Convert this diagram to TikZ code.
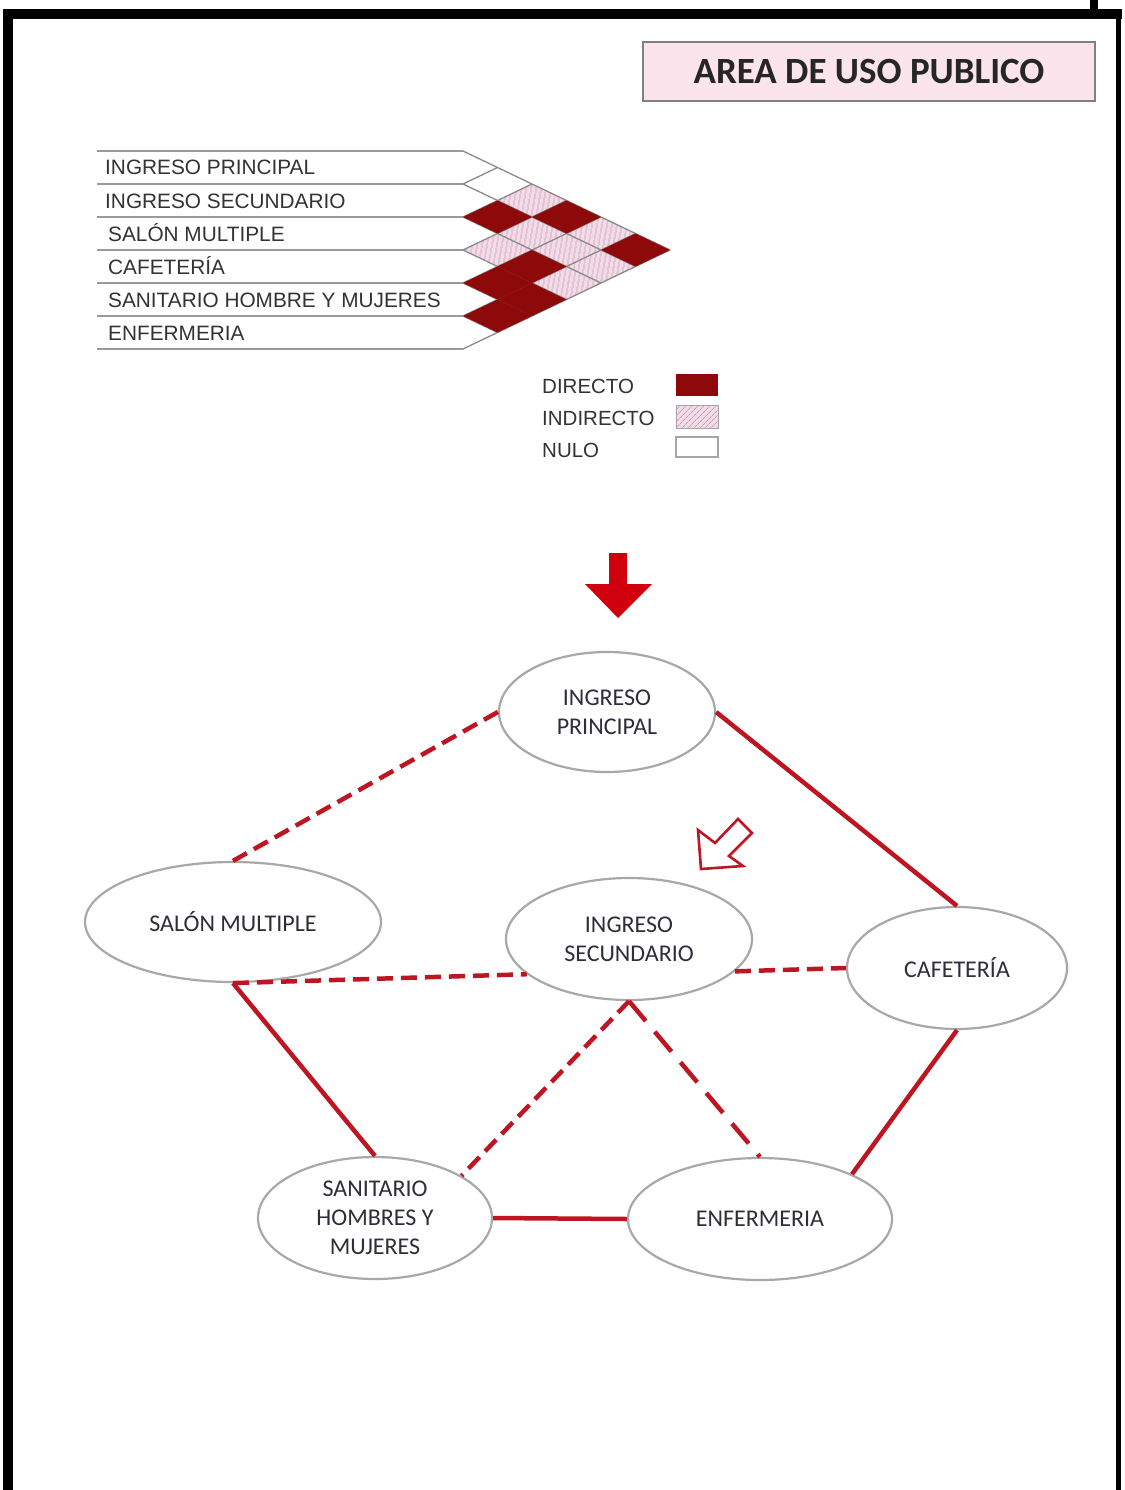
\documentclass[tikz,border=0pt]{standalone}
\usepackage{fontspec}
\setmainfont{Liberation Sans}
\newfontfamily\calib{Carlito}
\usetikzlibrary{shapes.geometric,patterns.meta}
\definecolor{dred}{HTML}{8E0A0A}
\definecolor{lred}{HTML}{BE1522}
\definecolor{arrred}{HTML}{D0000F}
\definecolor{pinkc}{HTML}{F3DCE8}
\definecolor{hatchc}{HTML}{C49AB0}
\definecolor{gridc}{HTML}{8A8A8A}
\definecolor{hlc}{HTML}{9A9A9A}
\definecolor{ellc}{HTML}{A8A8A8}
\definecolor{titlef}{HTML}{FBE4EC}
\definecolor{txt}{HTML}{2E2E3A}
\definecolor{mtxt}{HTML}{333333}
\begin{document}
\begin{tikzpicture}[x=1pt,y=-1pt,
  room/.style={ellipse, draw=ellc, line width=2.2pt, fill=white, inner sep=0pt, align=center,
    font=\calib\fontsize{24}{29}\selectfont, text=txt},
  direct/.style={draw=lred, line width=4.5pt},
  indirect/.style={draw=lred, line width=4.5pt, dash pattern=on 16pt off 8pt},
  rowlabel/.style={anchor=base west, inner sep=0pt, font=\fontsize{20.8}{24}\selectfont, text=mtxt},
  legtext/.style={anchor=base west, inner sep=0pt, font=\fontsize{20.5}{24}\selectfont, text=mtxt},
  gridline/.style={draw=gridc, line width=1.3pt},
  hline/.style={draw=hlc, line width=1.6pt},
  pinkcell/.style={preaction={fill=pinkc}, pattern={Lines[angle=80,distance=4pt,line width=0.7pt]}, pattern color=hatchc},
  darkcell/.style={fill=dred}
]
\useasboundingbox (0,0) rectangle (1124,1490);
\fill[white] (0,0) rectangle (1124,1490);

% frame
\fill[black] (3,9) rectangle (1122,19);
\fill[black] (3,9) rectangle (13,1490);
\fill[black] (1116,9) rectangle (1121,1490);
\fill[black] (1090,0) rectangle (1098,10);

% title
\node[draw=gray, line width=2pt, fill=titlef, minimum width=452pt, minimum height=59pt, inner sep=0pt,
  font=\calib\bfseries\fontsize{37}{40}\selectfont, text=black!85] (title) at (869,72) {AREA DE USO PUBLICO};

% matrix: horizontal lines
\foreach \k in {0,...,6} {
  \draw[hline] (97,151+33*\k) -- (463,151+33*\k);
}
% pink cells
\foreach \i/\j in {0/2,2/3,1/3,0/4,1/4,1/5,2/5} {
  \pgfmathsetmacro\cx{463+34.5*(\j-\i)}
  \pgfmathsetmacro\cy{151+16.5*(\i+\j+1)}
  \path[pinkcell] (\cx-34.5,\cy) -- (\cx,\cy-16.5) -- (\cx+34.5,\cy) -- (\cx,\cy+16.5) -- cycle;
}
% grid
\foreach \k in {0,...,6} {
  \draw[gridline] (463,151+33*\k) -- ++(34.5*6-34.5*\k, 16.5*6-16.5*\k);
  \draw[gridline] (463,151+33*\k) -- ++(34.5*\k, -16.5*\k);
}
% dark cells
\foreach \i/\j in {1/2,0/3,0/5,2/4,3/4,3/5,4/5} {
  \pgfmathsetmacro\cx{463+34.5*(\j-\i)}
  \pgfmathsetmacro\cy{151+16.5*(\i+\j+1)}
  \fill[darkcell] (\cx-34.5,\cy) -- (\cx,\cy-16.5) -- (\cx+34.5,\cy) -- (\cx,\cy+16.5) -- cycle;
}
% row labels
\node[rowlabel] (r0) at (105,175) {INGRESO PRINCIPAL};
\node[rowlabel] (r1) at (105,208) {INGRESO SECUNDARIO};
\node[rowlabel] (r2) at (108,241) {SALÓN MULTIPLE};
\node[rowlabel] (r3) at (108,274) {CAFETERÍA};
\node[rowlabel] (r4) at (108,307) {SANITARIO HOMBRE Y MUJERES};
\node[rowlabel] (r5) at (108,340) {ENFERMERIA};

% legend
\node[legtext] (l1) at (542,393) {DIRECTO};
\node[legtext] (l2) at (542,425) {INDIRECTO};
\node[legtext] (l3) at (542,457) {NULO};
\fill[dred] (676,374) rectangle (718,396);
\path[preaction={fill=pinkc}, pattern={Lines[angle=45,distance=4pt,line width=0.7pt]}, pattern color=hatchc, draw=gray!70, line width=1pt] (676,405) rectangle (718,428);
\draw[draw=gray!70, line width=1.4pt, fill=white] (676,437) rectangle (718,457);

% arrows
\fill[arrred] (609,553) -- (627,553) -- (627,584) -- (652,584) -- (618,618) -- (585,584) -- (609,584) -- cycle;
\draw[lred, line width=2.6pt, fill=white, line join=miter]
  (701,869) -- (698,830) -- (715,843) -- (738,819) -- (752,833) -- (729,856) -- (743,866) -- cycle;

% rooms
\node[room, minimum width=216pt, minimum height=120pt] (ip) at (607,712) {INGRESO\\PRINCIPAL};
\node[room, minimum width=296pt, minimum height=120pt] (sm) at (233,922) {SALÓN MULTIPLE};
\node[room, minimum width=246pt, minimum height=122pt] (is) at (629,939) {INGRESO\\SECUNDARIO};
\node[room, minimum width=220pt, minimum height=122pt] (caf) at (957,968) {CAFETERÍA};
\node[room, minimum width=234pt, minimum height=122pt] (san) at (375,1218) {SANITARIO\\HOMBRES Y\\MUJERES};
\node[room, minimum width=264pt, minimum height=122pt] (enf) at (760,1219) {ENFERMERIA};

% connectors
\draw[indirect] (ip.west) -- (sm.north);
\draw[direct] (ip.east) -- (caf.north);
\draw[indirect] (sm.south) -- (is.199);
\draw[indirect] (is.-17) -- (caf.west);
\draw[direct] (sm.south) -- (san.north);
\draw[indirect] (is.south) -- (san.26);
\draw[indirect, dash pattern=on 26pt off 14pt] (is.south) -- (enf.north);
\draw[direct] (caf.south) -- (enf.26);
\draw[direct] (san.east) -- (enf.west);
\end{tikzpicture}
\end{document}
